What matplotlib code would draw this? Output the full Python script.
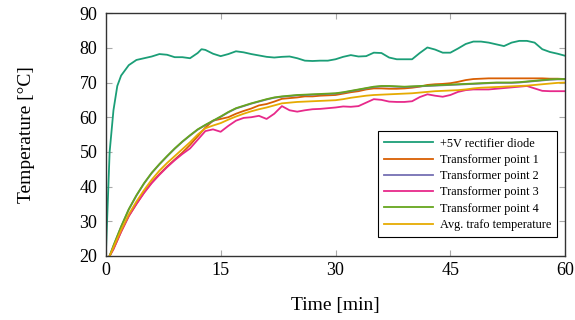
import matplotlib
matplotlib.use('Agg')
import matplotlib.pyplot as plt

plt.rcParams['font.family'] = ['Liberation Serif', 'DejaVu Serif']

# diode measured on its own time base (fast start)
t_diode = [0, 0.25, 0.5, 1, 1.5, 2, 3, 4, 5, 6, 7, 8, 9, 10, 11, 12, 12.5, 13, 14, 15,
           16, 17, 18, 19, 20, 21, 22, 23, 24, 25, 26, 27, 28, 29, 30, 31, 32, 33, 34, 35,
           36, 37, 38, 39, 40, 41, 42, 43, 44, 45, 46, 47, 48, 49, 50, 51, 52, 53, 54, 55,
           56, 57, 58, 59, 60]
diode = [20, 35, 50, 62, 69, 72, 75, 76.5, 77, 77.5, 78.2, 78, 77.3, 77.3, 77, 78.5, 79.6, 79.4, 78.3, 77.6,
         78.2, 79, 78.7, 78.2, 77.8, 77.4, 77.2, 77.4, 77.5, 77, 76.3, 76.2, 76.3, 76.3, 76.7, 77.4, 77.9, 77.5, 77.6, 78.6,
         78.5, 77.2, 76.7, 76.7, 76.7, 78.5, 80.1, 79.5, 78.6, 78.6, 79.8, 81.1, 81.8, 81.8, 81.5, 81, 80.5, 81.5, 82, 82,
         81.5, 79.6, 78.8, 78.3, 77.7]

t_trafo = [0.5, 1, 2, 3, 4, 5, 6, 7, 8, 9, 10, 11, 12, 13, 14, 15, 16, 17, 18, 19, 20,
           21, 22, 23, 24, 25, 26, 27, 28, 29, 30, 31, 32, 33, 34, 35, 36, 37, 38, 39, 40,
           41, 42, 43, 44, 45, 46, 47, 48, 49, 50, 51, 52, 53, 54, 55, 56, 57, 58, 59, 60]
point1 = [20, 22, 27, 31.5, 35, 38.3, 41.2, 43.6, 45.8, 47.8, 49.8, 52, 54.5, 57, 59, 59.5, 60, 61, 61.8, 62.5, 63.4,
          63.8, 64.5, 65.3, 65.5, 65.7, 66, 66, 66.2, 66.3, 66.4, 66.8, 67.2, 67.5, 68, 68.3, 68.3, 68.2, 68.2, 68.3, 68.5,
          68.8, 69.3, 69.5, 69.6, 69.8, 70.2, 70.7, 71, 71.1, 71.2, 71.2, 71.2, 71.2, 71.2, 71.2, 71.2, 71.2, 71.1, 71.1, 71]
point2 = [20, 22.9, 28.4, 33.4, 37.4, 40.9, 43.9, 46.4, 48.7, 50.9, 52.9, 54.7, 56.4, 57.7, 58.9, 60.1, 61.4, 62.5, 63.2, 63.9, 64.5,
          65.1, 65.6, 65.9, 66.1, 66.3, 66.4, 66.5, 66.6, 66.7, 66.8, 67.1, 67.5, 67.9, 68.3, 68.7, 68.9, 68.9, 68.8, 68.7, 68.8,
          68.9, 69, 69.1, 69.2, 69.3, 69.4, 69.5, 69.6, 69.7, 69.8, 69.9, 69.9, 69.9, 70, 70.2, 70.4, 70.6, 70.8, 70.9, 70.9]
point3 = [20, 22, 27, 31.5, 35, 38.2, 41, 43.4, 45.6, 47.6, 49.4, 51, 53.5, 56, 56.5, 55.8, 57.5, 59, 59.8, 60, 60.4,
          59.5, 61, 63.2, 62, 61.6, 62, 62.3, 62.4, 62.6, 62.8, 63.1, 63, 63.2, 64.2, 65.2, 65, 64.5, 64.4, 64.4, 64.6,
          65.8, 66.6, 66.2, 65.9, 66.4, 67.3, 67.8, 68, 68, 68, 68.2, 68.4, 68.6, 68.8, 69, 68.3, 67.6, 67.5, 67.5, 67.5]
point4 = [20, 23, 28.5, 33.5, 37.5, 41, 44, 46.5, 48.8, 51, 53, 54.8, 56.5, 57.8, 59, 60.2, 61.5, 62.6, 63.3, 64, 64.6,
          65.2, 65.7, 66, 66.2, 66.4, 66.5, 66.6, 66.7, 66.8, 66.9, 67.2, 67.6, 68, 68.4, 68.8, 69, 69, 68.9, 68.8, 68.9,
          69, 69.1, 69.2, 69.3, 69.4, 69.5, 69.6, 69.7, 69.8, 69.9, 70, 70, 70, 70.1, 70.3, 70.5, 70.7, 70.9, 71, 71]
avg = [20, 22.5, 27.5, 32, 35.7, 39, 42, 44.6, 46.8, 48.8, 50.8, 52.8, 55, 56.8, 57.6, 58.3, 59.3, 60.2, 61, 61.7, 62.3,
       62.8, 63.4, 64, 64.2, 64.4, 64.5, 64.6, 64.7, 64.8, 64.9, 65.2, 65.6, 65.9, 66.2, 66.4, 66.5, 66.6, 66.7, 66.8, 66.9,
       67.1, 67.3, 67.5, 67.6, 67.7, 67.8, 68, 68.3, 68.5, 68.6, 68.7, 68.8, 68.9, 69, 69.1, 69.3, 69.5, 69.7, 69.9, 70]

labels = ['+5V rectifier diode', 'Transformer point 1', 'Transformer point 2',
          'Transformer point 3', 'Transformer point 4', 'Avg. trafo temperature']
colors = ['#1b9e77', '#d95f02', '#7570b3', '#e7298a', '#66a61e', '#e6ab02']


def main():
    fig = plt.figure(figsize=(5.75, 3.2), dpi=100)
    ax = fig.add_axes([0.184, 0.2, 0.799, 0.759])

    series = [point1, point2, point3, point4, avg]
    ax.plot(t_diode, diode, color=colors[0], lw=1.3, label=labels[0])
    for s, c, l in zip(series, colors[1:], labels[1:]):
        ax.plot(t_trafo, s, color=c, lw=1.3, label=l)

    ax.set_xlim(0, 60)
    ax.set_ylim(20, 90)
    ax.set_xticks([0, 15, 30, 45, 60])
    ax.set_yticks(range(20, 91, 10))
    ax.tick_params(direction='in', top=True, right=True, length=4,
                   color='#aaaaaa', labelsize=13)
    ax.tick_params(axis='y', pad=6)
    ax.tick_params(axis='x', pad=4)
    for sp in ax.spines.values():
        sp.set_color('#333333')
        sp.set_linewidth(1.0)

    ax.set_xlabel('Time [min]', fontsize=14, labelpad=13)
    ax.set_ylabel('Temperature [°C]', fontsize=14, labelpad=32)

    leg = ax.legend(loc='lower right', bbox_to_anchor=(0.983, 0.078), borderaxespad=0,
                    fontsize=8.8, fancybox=False, framealpha=1, edgecolor='black',
                    handlelength=4.0, handletextpad=0.6, labelspacing=0.35, borderpad=0.5)
    leg.get_frame().set_linewidth(0.8)

    plt.savefig('out.png')
    plt.close()


if __name__ == '__main__':
    main()
